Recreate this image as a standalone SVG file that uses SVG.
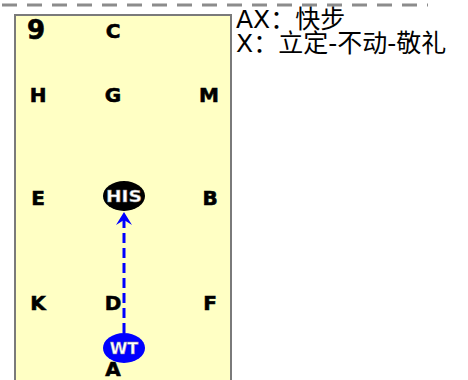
<svg xmlns="http://www.w3.org/2000/svg" width="468" height="380" viewBox="0 0 468 380">
<defs>
<style>
.lbl{font-family:"DejaVu Sans",Verdana,sans-serif;font-weight:bold;font-size:20px;fill:#000;stroke:#000;stroke-width:0.6;text-anchor:middle}
.node-t{font-family:"DejaVu Sans",Verdana,sans-serif;font-weight:bold;font-size:16px;fill:#fff;stroke:#888;stroke-width:0.4;text-anchor:middle}
.note{font-family:"DejaVu Sans","Noto Sans CJK SC",sans-serif;font-size:25px;fill:#000}
</style>
</defs>
<line x1="2" y1="5" x2="428" y2="5" stroke="#8c8c8c" stroke-width="3" stroke-dasharray="15 10"/>
<g id="arena">
<rect x="15" y="15" width="216" height="370" fill="#ffffc4" stroke="#7a7a7a" stroke-width="2"/>
<text x="36" y="39" class="lbl" style="font-size:26px">9</text>
<text x="113" y="38" class="lbl">C</text>
<text x="38" y="102" class="lbl">H</text>
<text x="113" y="102" class="lbl">G</text>
<text x="209" y="102" class="lbl">M</text>
<text x="38" y="205" class="lbl">E</text>
<text x="210" y="205" class="lbl">B</text>
<text x="38" y="310" class="lbl">K</text>
<text x="113" y="310" class="lbl">D</text>
<text x="210" y="310" class="lbl">F</text>
<text x="113" y="376" class="lbl">A</text>
</g>
<g id="connectors">
<line x1="124" y1="333" x2="124" y2="216" stroke="#0000ff" stroke-width="3" stroke-dasharray="10 5"/>
<path d="M124,212 L132,225 L124,220 L116,225 Z" fill="#0000ff"/>
</g>
<g id="node-his">
<ellipse cx="124" cy="196" rx="21" ry="15" fill="#000"/>
<text x="124" y="202" class="node-t" textLength="36" lengthAdjust="spacingAndGlyphs">HIS</text>
</g>
<g id="node-wt">
<ellipse cx="124" cy="348" rx="21" ry="15" fill="#0000ff"/>
<text x="124" y="354" class="node-t">WT</text>
</g>
<g id="legend">
<text x="236" y="28" class="note">AX：快步</text>
<text x="236" y="52" class="note">X：立定-不动-敬礼</text>
</g>
</svg>
